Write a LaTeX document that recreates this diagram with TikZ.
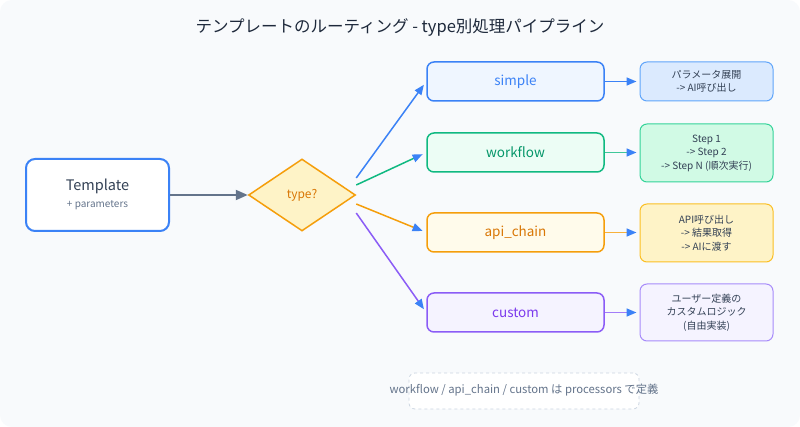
\documentclass[tikz,border=0pt]{standalone}
\usepackage{fontspec}
\setmainfont{Noto Sans CJK JP}
\usetikzlibrary{shapes.geometric,arrows.meta}
\definecolor{bgc}{HTML}{F8FAFC}
\definecolor{titlec}{HTML}{1E293B}
\definecolor{darkc}{HTML}{334155}
\definecolor{grayc}{HTML}{64748B}
\definecolor{lgrayc}{HTML}{CBD5E1}
\definecolor{blueb}{HTML}{3B82F6}
\definecolor{bluef}{HTML}{EFF6FF}
\definecolor{bluer}{HTML}{DBEAFE}
\definecolor{bluerb}{HTML}{60A5FA}
\definecolor{greenb}{HTML}{10B981}
\definecolor{greent}{HTML}{059669}
\definecolor{greenf}{HTML}{ECFDF5}
\definecolor{greenr}{HTML}{D1FAE5}
\definecolor{greenrb}{HTML}{34D399}
\definecolor{orangeb}{HTML}{F59E0B}
\definecolor{oranget}{HTML}{D97706}
\definecolor{orangef}{HTML}{FFFBEB}
\definecolor{oranger}{HTML}{FEF3C7}
\definecolor{orangerb}{HTML}{FBBF24}
\definecolor{purpleb}{HTML}{8B5CF6}
\definecolor{purplet}{HTML}{7C3AED}
\definecolor{purplef}{HTML}{F5F3FF}
\definecolor{purpler}{HTML}{F5F3FF}
\definecolor{purplerb}{HTML}{A78BFA}
\tikzset{
  branchbox/.style={draw, line width=1.5pt, rounded corners=7pt, minimum width=177pt, minimum height=39pt, inner sep=0pt, font=\fontsize{13.5}{16}\selectfont},
  resbox/.style={draw, line width=1pt, rounded corners=7pt, minimum width=133pt, inner sep=0pt, align=center, text=darkc, font=\fontsize{10}{13.5}\selectfont},
  flow/.style={line width=1.5pt, -{Triangle[length=10pt,width=8pt,color=blueb]}},
}
\begin{document}
\begin{tikzpicture}[x=1pt,y=-1pt]
\useasboundingbox (0,0) rectangle (800,427);
\fill[white] (0,0) rectangle (800,427);
\fill[bgc, rounded corners=12pt] (0,0) rectangle (800,427);

\node[text=titlec, font=\fontsize{16.5}{19}\selectfont] (title) at (400,28) {テンプレートのルーティング - type別処理パイプライン};

% Template
\node[draw=blueb, fill=white, line width=2pt, rounded corners=9pt, minimum width=143pt, minimum height=72pt] (tpl) at (97.5,195) {};
\node[text=darkc, font=\fontsize{14.5}{16}\selectfont] (tpltxt) at (97.5,186) {Template};
\node[text=grayc, font=\fontsize{10}{12}\selectfont] (tplsub) at (97.5,205) {+ parameters};

% Diamond
\node[diamond, draw=orangeb, fill=oranger, line width=1.5pt, minimum width=107pt, minimum height=72pt, inner sep=0pt, text=oranget, font=\fontsize{12}{14}\selectfont] (dec) at (302,195) {type?};

\draw[line width=2pt, grayc, -{Triangle[length=12pt,width=10pt]}] (tpl.east) -- (dec.west);

% Branch boxes
\node[branchbox, draw=blueb, fill=bluef, text=blueb] (simple) at (515.5,81.5) {simple};
\node[branchbox, draw=greenb, fill=greenf, text=greent] (workflow) at (515.5,152.5) {workflow};
\node[branchbox, draw=orangeb, fill=orangef, text=oranget] (api) at (515.5,232.5) {api\_chain};
\node[branchbox, draw=purpleb, fill=purplef, text=purplet] (custom) at (515.5,312.5) {custom};

% Result boxes
\node[resbox, draw=bluerb, fill=bluer, minimum height=39pt] (rsimple) at (706.5,81.5) {パラメータ展開\\-> AI呼び出し};
\node[resbox, draw=greenrb, fill=greenr, minimum height=58pt] (rworkflow) at (706.5,153) {Step 1\\-> Step 2\\-> Step N (順次実行)};
\node[resbox, draw=orangerb, fill=oranger, minimum height=58pt] (rapi) at (706.5,233) {API呼び出し\\-> 結果取得\\-> AIに渡す};
\node[resbox, draw=purplerb, fill=purpler, minimum height=57pt] (rcustom) at (706.5,312.5) {ユーザー定義の\\カスタムロジック\\(自由実装)};

% Diamond to branches
\coordinate (s1) at ([yshift=17pt]dec.east);
\coordinate (s2) at ([yshift=10pt]dec.east);
\coordinate (s3) at ([yshift=-9pt]dec.east);
\coordinate (s4) at ([yshift=-18pt]dec.east);
\draw[flow, blueb, shorten >=4pt] (s1) -- (simple.west);
\draw[flow, greenb, shorten >=4pt] (s2) -- (workflow.west);
\draw[flow, orangeb, shorten >=4pt] (s3) -- (api.west);
\draw[flow, purpleb, shorten >=4pt] (s4) -- (custom.west);

% Branches to results
\draw[flow, blueb, shorten >=3pt] (simple.east) -- (rsimple.west |- simple.east);
\draw[flow, greenb!80, shorten >=3pt] (workflow.east) -- (rworkflow.west |- workflow.east);
\draw[flow, orangeb!80, shorten >=3pt] (api.east) -- (rapi.west |- api.east);
\draw[flow, purpleb!80, shorten >=3pt] (custom.east) -- (rcustom.west |- custom.east);

% Note
\node[draw=lgrayc, fill=white, dashed, line width=0.8pt, rounded corners=6pt, minimum width=230pt, minimum height=36pt] (notebox) at (524,391) {};
\node[text=grayc, font=\fontsize{11.3}{13}\selectfont] (note) at (524,390) {workflow / api\_chain / custom は processors で定義};
\end{tikzpicture}
\end{document}
